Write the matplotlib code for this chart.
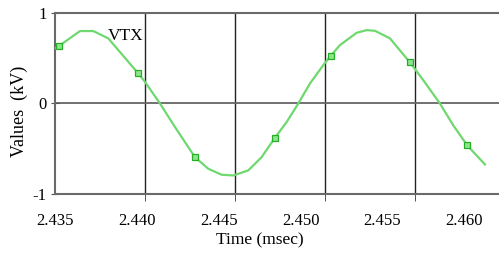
import matplotlib
matplotlib.use("Agg")
import matplotlib.pyplot as plt
from matplotlib.ticker import FixedLocator, NullFormatter

# waveform
time_ms = [2.435000, 2.435263, 2.436526, 2.437338, 2.438254, 2.440085, 2.440495,
           2.441410, 2.442326, 2.443138, 2.443547, 2.444359, 2.445177, 2.445885,
           2.446801, 2.447619, 2.448431, 2.449145, 2.449853, 2.450568, 2.451380,
           2.451832, 2.452399, 2.453419, 2.454029, 2.454536, 2.455452, 2.456673,
           2.457485, 2.458504, 2.459316, 2.460171, 2.461252]
vtx_kv = [0.608, 0.637, 0.800, 0.800, 0.719, 0.330, 0.237,
          -0.003, -0.263, -0.486, -0.597, -0.726, -0.792, -0.800,
          -0.744, -0.597, -0.381, -0.208, -0.003, 0.219, 0.422,
          0.526, 0.644, 0.781, 0.810, 0.803, 0.719, 0.452,
          0.256, -0.003, -0.244, -0.467, -0.678]

marker_t = [2.43526, 2.44009, 2.44355, 2.44843, 2.45183, 2.45667, 2.46017]
marker_v = [0.637, 0.330, -0.597, -0.381, 0.526, 0.452, -0.467]

xtick_vals = [2.435, 2.440, 2.445, 2.450, 2.455, 2.460]
xtick_labels = ["2.435", "2.440", "2.445", "2.450", "2.455", "2.460"]
ytick_vals = [-1, 0, 1]

plt.rcParams["font.family"] = ["Liberation Serif", "DejaVu Serif"]
plt.rcParams["axes.unicode_minus"] = False

fig = plt.figure(figsize=(4.99, 2.56), dpi=100)
ax = fig.add_axes([55 / 499, 1 - 193.5 / 256, 444 / 499, 180.5 / 256])

ax.plot(time_ms, vtx_kv, color="#6fd86f", lw=1.6, zorder=3)
ax.plot(marker_t, marker_v, ls="none", marker="s", ms=4.5,
        mfc="#8fe48f", mec="#22b022", mew=0.9, zorder=4)
ax.text(2.439335, 0.744, "VTX", fontsize=12.5, ha="center", va="center")

ax.set_xlim(2.435, 2.46211)
ax.set_ylim(-1, 1)

# labels sit on their own scale, grid/ticks on a slightly wider one
ax.xaxis.set_major_locator(FixedLocator(xtick_vals))
ax.set_xticklabels(xtick_labels)
ax.xaxis.set_minor_locator(FixedLocator([2.435 + 0.0055 * k for k in range(1, 5)]))
ax.xaxis.set_minor_formatter(NullFormatter())
ax.tick_params(axis="x", which="major", length=0, pad=14, labelsize=12)
ax.tick_params(axis="x", which="minor", length=5, direction="out", color="#333333")
ax.set_yticks(ytick_vals)
ax.tick_params(axis="y", length=6, direction="inout", pad=3, labelsize=12,
               color="#555555")

ax.grid(True, axis="x", which="minor", color="#222222", lw=1.0)
ax.grid(True, axis="y", which="major", color="#666666", lw=1.3)

for side in ["top", "bottom", "left"]:
    ax.spines[side].set_color("#6a6a6a")
    ax.spines[side].set_linewidth(1.5)
ax.spines["right"].set_visible(False)

ax.set_xlabel("Time (msec)", fontsize=12.5)
ax.xaxis.set_label_coords(0.462, -0.215)
ax.set_ylabel("Values  (kV)", fontsize=13)
ax.yaxis.set_label_coords(-0.06, 0.457)

fig.savefig("out.png", dpi=100)
